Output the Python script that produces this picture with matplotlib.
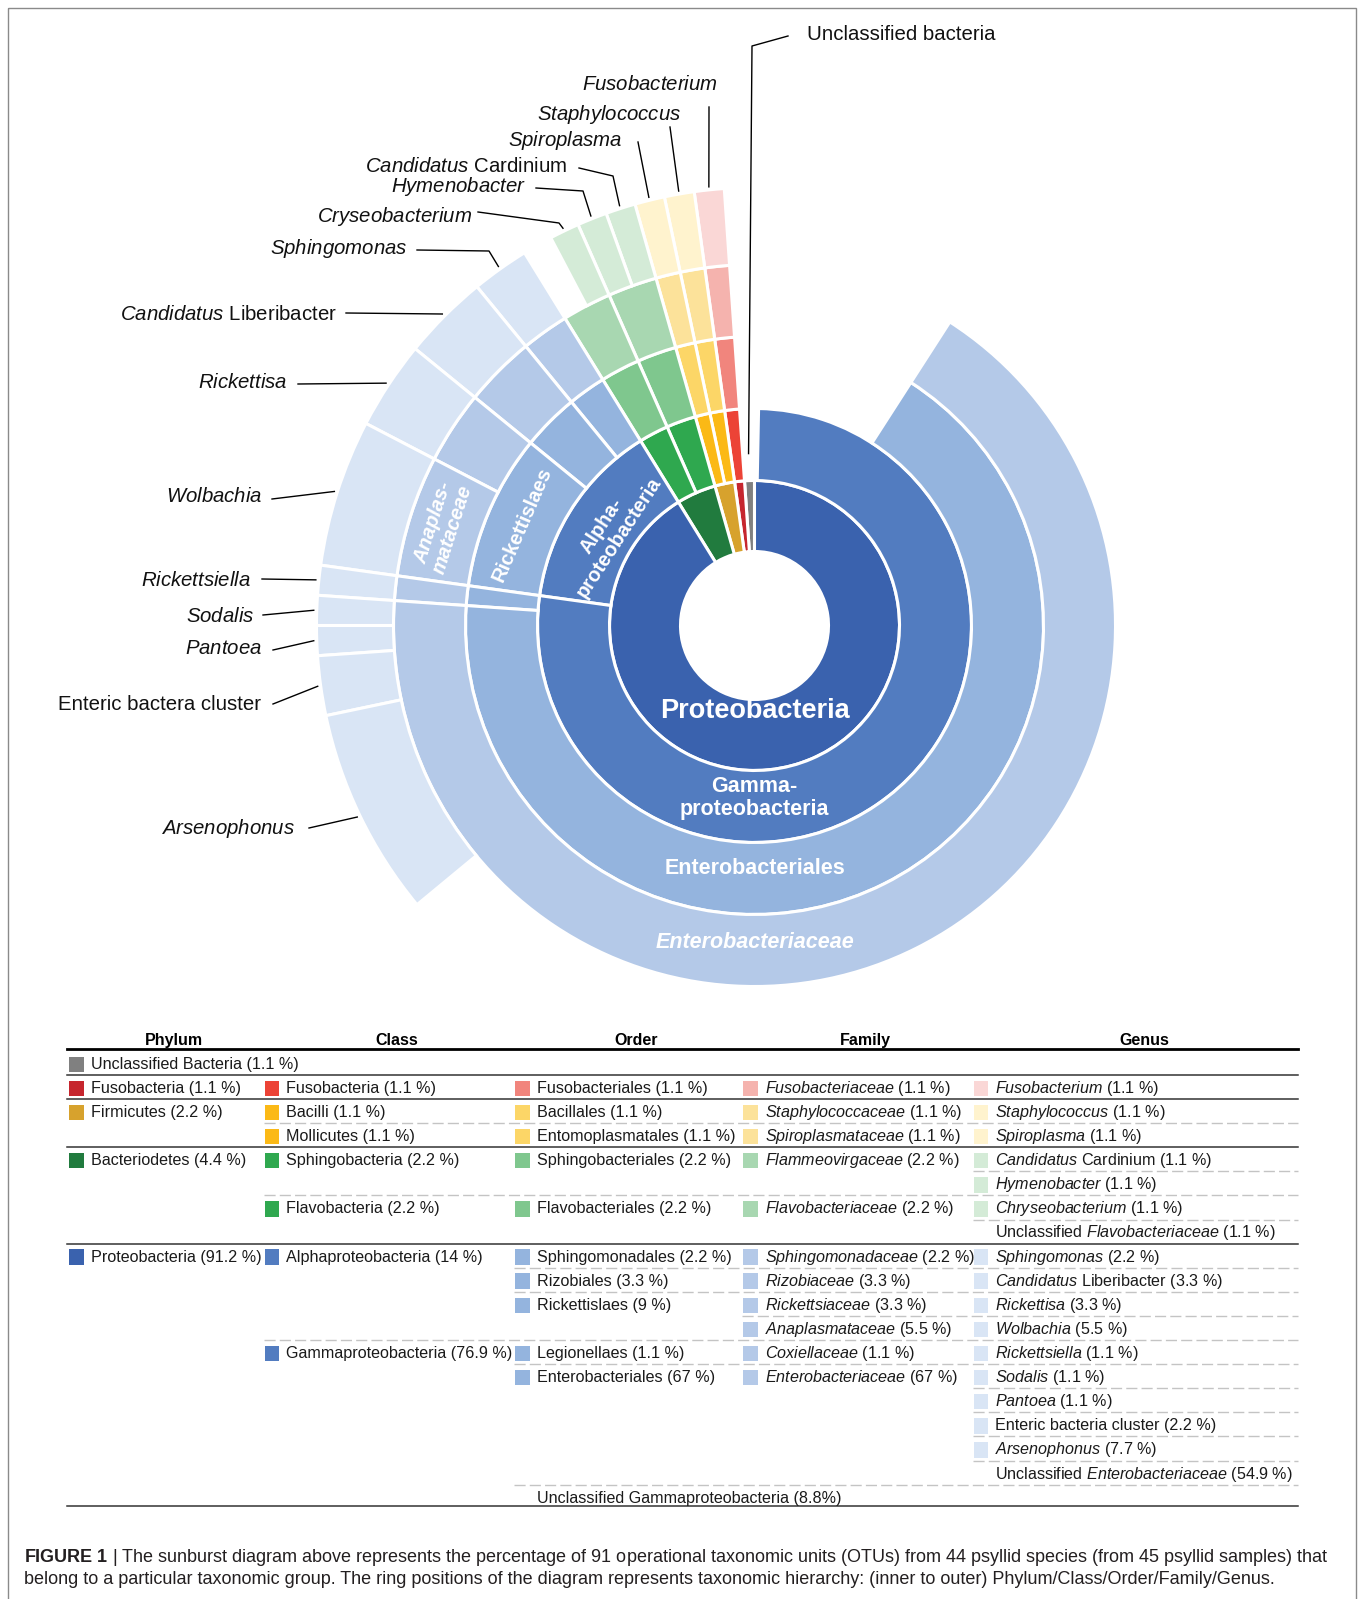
import matplotlib
matplotlib.use("Agg")
import numpy as np
import matplotlib.pyplot as plt
from matplotlib.patches import Wedge, Rectangle

plt.rcParams["font.family"] = ["Liberation Sans", "DejaVu Sans"]
plt.rcParams["mathtext.fontset"] = "custom"
plt.rcParams["mathtext.rm"] = "Liberation Sans"
plt.rcParams["mathtext.it"] = "Liberation Sans:italic"
plt.rcParams["mathtext.bf"] = "Liberation Sans:bold"


def it(s):
    return r"$\mathit{" + s.replace(" ", r"\ ") + "}$"


# Data, in table order (the sunburst runs counter-clockwise from 12 o'clock in this order)
phyla = ["Unclassified Bacteria", "Fusobacteria", "Firmicutes", "Bacteriodetes", "Proteobacteria"]
phylum_pct = [1.1, 1.1, 2.2, 4.4, 91.2]

classes = ["Fusobacteria", "Bacilli", "Mollicutes", "Sphingobacteria", "Flavobacteria",
           "Alphaproteobacteria", "Gammaproteobacteria"]
class_pct = [1.1, 1.1, 1.1, 2.2, 2.2, 14, 76.9]
class_parent = [1, 2, 2, 3, 3, 4, 4]

orders = ["Fusobacteriales", "Bacillales", "Entomoplasmatales", "Sphingobacteriales",
          "Flavobacteriales", "Sphingomonadales", "Rizobiales", "Rickettislaes",
          "Legionellaes", "Enterobacteriales", "Unclassified Gammaproteobacteria"]
order_pct = [1.1, 1.1, 1.1, 2.2, 2.2, 2.2, 3.3, 9, 1.1, 67, 8.8]
order_parent = [0, 1, 2, 3, 4, 5, 5, 5, 6, 6, 6]

families = ["Fusobacteriaceae", "Staphylococcaceae", "Spiroplasmataceae", "Flammeovirgaceae",
            "Flavobacteriaceae", "Sphingomonadaceae", "Rizobiaceae", "Rickettsiaceae",
            "Anaplasmataceae", "Coxiellaceae", "Enterobacteriaceae"]
family_pct = [1.1, 1.1, 1.1, 2.2, 2.2, 2.2, 3.3, 3.3, 5.5, 1.1, 67]
family_parent = [0, 1, 2, 3, 4, 5, 6, 7, 7, 8, 9]

genera = ["Fusobacterium", "Staphylococcus", "Spiroplasma", "Candidatus Cardinium",
          "Hymenobacter", "Chryseobacterium", "Unclassified Flavobacteriaceae", "Sphingomonas",
          "Candidatus Liberibacter", "Rickettisa", "Wolbachia", "Rickettsiella", "Sodalis",
          "Pantoea", "Enteric bacteria cluster", "Arsenophonus", "Unclassified Enterobacteriaceae"]
genus_pct = [1.1, 1.1, 1.1, 1.1, 1.1, 1.1, 1.1, 2.2, 3.3, 3.3, 5.5, 1.1, 1.1, 1.1, 2.2, 7.7, 54.9]
genus_parent = [0, 1, 2, 3, 3, 4, 4, 5, 6, 7, 8, 9, 10, 10, 10, 10, 10]

# labels written round the sunburst (spelled as in the figure)
genus_callout = ["Fusobacterium", "Staphylococcus", "Spiroplasma", "Candidatus Cardinium",
                 "Hymenobacter", "Cryseobacterium", None, "Sphingomonas",
                 "Candidatus Liberibacter", "Rickettisa", "Wolbachia", "Rickettsiella",
                 "Sodalis", "Pantoea", "Enteric bactera cluster", "Arsenophonus", None]

heads = ["Phylum", "Class", "Order", "Family", "Genus"]

# colours: one hue per phylum, lighter towards the outer rings
shades = {
    "gray": ["#808080"] * 5,
    "red": ["#C6262E", "#EC4336", "#F1857D", "#F5B3AE", "#FAD7D6"],
    "gold": ["#D7A22D", "#FBB916", "#FCD667", "#FCE29A", "#FFF3CE"],
    "green": ["#217B3E", "#2FA84F", "#7FC78E", "#A8D7B1", "#D4EBD7"],
    "blue": ["#3A62AE", "#527CC0", "#94B4DE", "#B4C9E8", "#D9E5F5"],
}
phylum_hue = ["gray", "red", "gold", "green", "blue"]

names = [phyla, classes, orders, families, genera]
pcts = [phylum_pct, class_pct, order_pct, family_pct, genus_pct]
parents = [None, class_parent, order_parent, family_parent, genus_parent]

# angular spans (in percent) for every ring
c = np.concatenate([[0], np.cumsum(phylum_pct)])
spans = [list(zip(c[:-1], c[1:]))]
roots = [list(range(len(phyla)))]
for lvl in range(1, 5):
    total = {}
    for p, v in zip(parents[lvl], pcts[lvl]):
        total[p] = total.get(p, 0) + v
    cursor, out = {}, []
    for p, v in zip(parents[lvl], pcts[lvl]):
        a, b = spans[lvl - 1][p]
        k = min(1.0, (b - a) / total[p])
        s = cursor.get(p, a)
        out.append((s, s + v * k))
        cursor[p] = s + v * k
    spans.append(out)
    roots.append([roots[lvl - 1][p] for p in parents[lvl]])


def color(lvl, i):
    if lvl > 0 and names[lvl][i].startswith("Unclassified"):
        return None
    return shades[phylum_hue[roots[lvl][i]]][lvl]


def markup(lvl, name):
    if name.startswith("Candidatus"):
        return it("Candidatus") + name[len("Candidatus"):]
    if lvl >= 3 and name.startswith("Unclassified"):
        return "Unclassified " + it(name.split(" ", 1)[1])
    if lvl >= 3 and not name.startswith("Enteric"):
        return it(name)
    return name


fig = plt.figure(figsize=(13.6, 15.99), dpi=100)
ax = fig.add_axes([0, 0, 1, 1])
ax.set_xlim(0, 1360)
ax.set_ylim(1599, 0)
ax.set_axis_off()

cx, cy = 754.5, 625.5
radii = [74, 145, 217, 289, 361, 438]


def psi(p):
    return 90 + 3.6 * p


def polar(r, ang):
    t = np.deg2rad(ang)
    return cx + r * np.cos(t), cy - r * np.sin(t)


# sunburst rings
for lvl in range(5):
    for i, (a, b) in enumerate(spans[lvl]):
        col = color(lvl, i)
        if col is None:
            continue
        ax.add_patch(Wedge((cx, cy), radii[lvl + 1], -psi(b), -psi(a),
                           width=radii[lvl + 1] - radii[lvl], facecolor=col,
                           edgecolor="white", linewidth=2.2))

# labels inside the rings
ax.text(cx, 711, "Proteobacteria", color="white", fontsize=19.5, fontweight="bold",
        ha="center", va="center")
ax.text(cx, 798, "Gamma-\nproteobacteria", color="white", fontsize=15.5, fontweight="bold",
        ha="center", va="center", linespacing=1.15)
ax.text(cx, 868, "Enterobacteriales", color="white", fontsize=15.5, fontweight="bold",
        ha="center", va="center")
ax.text(cx, 943, "Enterobacteriaceae", color="white", fontsize=15.5, fontweight="bold",
        fontstyle="italic", ha="center", va="center")


def ring_label(lvl, name, text, r, **kw):
    i = names[lvl].index(name)
    a, b = spans[lvl][i]
    ang = psi((a + b) / 2)
    x, y = polar(r, ang)
    ax.text(x, y, text, rotation=ang - 90, rotation_mode="anchor", ha="center",
            va="center", color="white", fontweight="bold", fontsize=14.5,
            linespacing=1.1, **kw)


ring_label(1, "Alphaproteobacteria", "Alpha-\nproteobacteria", 172)
ring_label(2, "Rickettislaes", "Rickettislaes", 253)
ring_label(3, "Anaplasmataceae", "Anaplas-\nmataceae", 327, fontstyle="italic")

# call-outs round the outside
label_xy = [(718, 85), (681, 114), (623, 141), (567, 167), (526, 187), (472, 216), None,
            (408, 249), (337, 314), (288, 383), (262, 496), (251, 580), (254, 616),
            (262, 648), (261, 704), (295, 828), None]
line_from = [(709, 107), (670, 127), (638, 142), (579, 168), (536, 188), (478, 212), None,
             (417, 250), (346, 313), (298, 384), (272, 499), (262, 579), (263, 615),
             (273, 650), (273, 704), (309, 828), None]
elbow = [None, None, None, (613, 176), (583, 191), (559, 223), None, (489, 251),
         None, None, None, None, None, None, None, None, None]

for i, lab in enumerate(genus_callout):
    if lab is None:
        continue
    x, y = label_xy[i]
    ax.text(x, y, markup(4, lab), ha="right", va="center", fontsize=14.7, color="#111111")
    a, b = spans[4][i]
    pts = [line_from[i]] + ([elbow[i]] if elbow[i] else []) + [polar(441, psi((a + b) / 2))]
    ax.plot([p[0] for p in pts], [p[1] for p in pts], color="black", lw=1.0)

ax.text(807, 35, "Unclassified bacteria", ha="left", va="center", fontsize=14.7, color="#111111")
a, b = spans[0][0]
pts = [(788, 36), (752, 46), polar(172, psi((a + b) / 2))]
ax.plot([p[0] for p in pts], [p[1] for p in pts], color="black", lw=1.0)

# table
row_y0, row_h = 1064.3, 24.1
swatch_x = [69, 264.6, 515, 743.4, 973.6]
head_x = [174.2, 397.2, 636.3, 865.4, 1144]
tab_left, tab_right = 67, 1297.6
tight_pct = {"Unclassified Gammaproteobacteria"}

children = [[[] for _ in names[l]] for l in range(5)]
for l in range(1, 5):
    for j, p in enumerate(parents[l]):
        children[l - 1][p].append(j)

entries = []
row = 0


def visit(l, i):
    global row
    entries.append((row, l, i))
    if not children[l][i]:
        row += 1
    for j in children[l][i]:
        visit(l + 1, j)


for i in range(len(phyla)):
    visit(0, i)
n_rows = row

for h, x in zip(heads, head_x):
    ax.text(x, 1040.7, h, ha="center", va="center", fontsize=11.5, fontweight="bold")
ax.plot([tab_left, tab_right], [1049.3, 1049.3], color="black", lw=2.0)

for r, l, i in entries:
    y = row_y0 + r * row_h
    col = color(l, i)
    if col is not None:
        ax.add_patch(Rectangle((swatch_x[l], y - 7.8), 14.7, 15.5, facecolor=col, edgecolor="none"))
    v = pcts[l][i]
    pct = f" ({v:g}%)" if names[l][i] in tight_pct else f" ({v:g} %)"
    ax.text(swatch_x[l] + 21.8, y, markup(l, names[l][i]) + pct, ha="left", va="center",
            fontsize=11.6, color="#1a1a1a")

first_level = {}
for r, l, i in entries:
    first_level[r] = min(l, first_level.get(r, 9))
for r in range(1, n_rows):
    y = row_y0 + r * row_h - 13.5
    l = first_level[r]
    if l == 0:
        ax.plot([tab_left, tab_right], [y, y], color="#333333", lw=1.1)
    else:
        ax.plot([swatch_x[l] - 1, tab_right], [y, y], color="#c4c4c4", lw=1.0,
                linestyle=(0, (8, 3)))
yb = row_y0 + (n_rows - 1) * row_h + 7.5
ax.plot([tab_left, tab_right], [yb, yb], color="#333333", lw=1.1)

# caption
cap1 = ax.text(24, 1557, r"$\mathbf{FIGURE\ 1}$ | The sunburst diagram above represents the "
               "percentage of 91 operational taxonomic units (OTUs) from 44 psyllid species "
               "(from 45 psyllid samples) that", fontsize=12.5, va="center", color="#231f20")
cap2 = ax.text(24, 1580, "belong to a particular taxonomic group. The ring positions of the "
               "diagram represents taxonomic hierarchy: (inner to outer) "
               "Phylum/Class/Order/Family/Genus.", fontsize=12.5, va="center", color="#231f20")
fig.canvas.draw()
w = cap2.get_window_extent().width
fs = 12.5 * 1254 / w
cap1.set_fontsize(fs)
cap2.set_fontsize(fs)

# frame round the figure
ax.add_patch(Rectangle((8, 8), 1348, 1700, fill=False, edgecolor="#8a8a8a", lw=1.0))

fig.savefig("out.png", dpi=100)
